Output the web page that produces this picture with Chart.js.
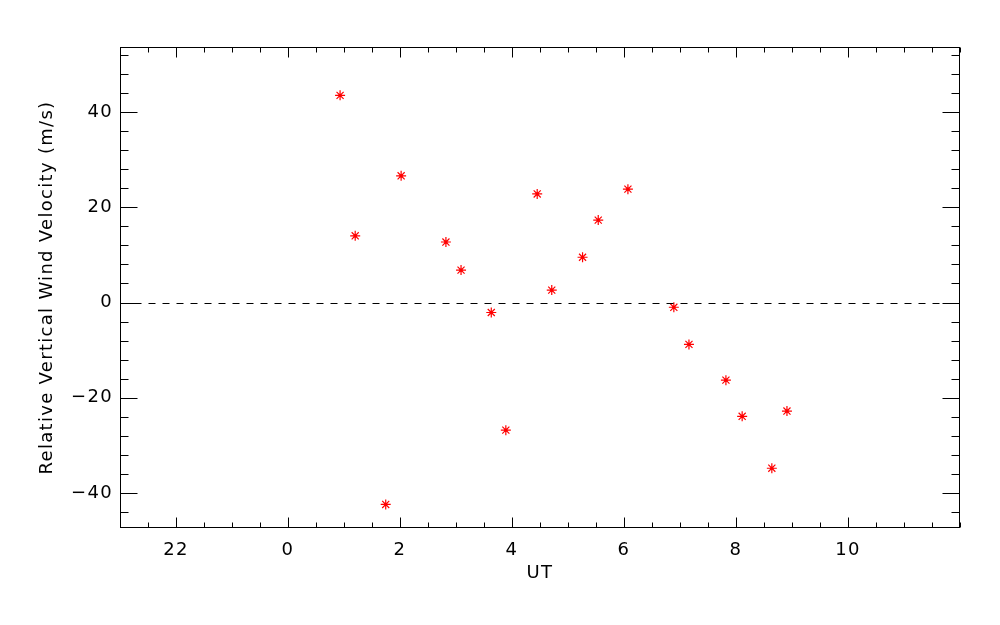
<!DOCTYPE html>
<html>
<head>
<meta charset="utf-8">
<script src="https://cdn.jsdelivr.net/npm/chart.js@4"></script>
<style>
  html, body { margin: 0; padding: 0; background: #fff; }
  canvas { display: block; }
</style>
</head>
<body>
<canvas id="plot" width="1000" height="625"></canvas>
<script>
'use strict';

// UT in hours after midnight (22 UT of the previous day is -2)
const utHours = [0.93, 1.20, 1.745, 2.02, 2.82, 3.09, 3.63, 3.89, 4.45, 4.71,
                 5.26, 5.54, 6.07, 6.89, 7.16, 7.82, 8.11, 8.64, 8.91];
const windVel = [43.5, 14.0, -42.4, 26.6, 12.7, 6.8, -2.1, -26.8, 22.8, 2.6,
                 9.5, 17.3, 23.8, -1.0, -8.8, -16.3, -23.9, -34.8, -22.8];

const xTickValues = [-2, 0, 2, 4, 6, 8, 10];
const xTickLabels = ['22', '0', '2', '4', '6', '8', '10'];
const yTickValues = [-40, -20, 0, 20, 40];

const xRange = [-3, 12];
const yRange = [-47.35, 53.65];

const points = utHours.map((x, i) => ({ x: x, y: windVel[i] }));
const FONT = { family: '"DejaVu Sans", sans-serif', size: 18 };

// the IDL vector font is wide; stretch canvas text a little
const spacing = {
    id: 'spacing',
    beforeUpdate(chart) { chart.ctx.letterSpacing = '1.3px'; },
    beforeDraw(chart) { chart.ctx.letterSpacing = '1.3px'; },
};

// IDL-style box: inward major/minor ticks on all four sides + dashed zero line
const idlFrame = {
    id: 'idlFrame',
    afterDatasetsDraw(chart) {
        const ctx = chart.ctx;
        const a = chart.chartArea;
        const xs = chart.scales.x, ys = chart.scales.y;
        const L = Math.round(a.left) + 0.5, R = Math.round(a.right) - 0.5;
        const T = Math.round(a.top) + 0.5, B = Math.round(a.bottom) - 0.5;

        ctx.save();
        ctx.strokeStyle = '#000';
        ctx.lineWidth = 1;

        // zero line
        const y0 = Math.round(ys.getPixelForValue(0)) + 0.5;
        ctx.setLineDash([7, 7]);
        ctx.beginPath();
        ctx.moveTo(L, y0);
        ctx.lineTo(R, y0);
        ctx.stroke();
        ctx.setLineDash([]);

        ctx.strokeRect(L, T, R - L, B - T);

        ctx.beginPath();
        for (let v = Math.ceil(xRange[0] / 0.5) * 0.5; v <= xRange[1]; v += 0.5) {
            const px = Math.round(xs.getPixelForValue(v)) + 0.5;
            const len = xTickValues.includes(v) ? 10 : 5;
            ctx.moveTo(px, B); ctx.lineTo(px, B - len);
            ctx.moveTo(px, T); ctx.lineTo(px, T + len);
        }
        for (let v = Math.ceil(yRange[0] / 4) * 4; v <= yRange[1]; v += 4) {
            const py = Math.round(ys.getPixelForValue(v)) + 0.5;
            const len = yTickValues.includes(v) ? 17 : 8;
            ctx.moveTo(L, py); ctx.lineTo(L + len, py);
            ctx.moveTo(R, py); ctx.lineTo(R - len, py);
        }
        ctx.stroke();
        ctx.restore();
    }
};

new Chart(document.getElementById('plot'), {
    type: 'scatter',
    data: {
        datasets: [
            {
                data: points,
                pointStyle: 'star',
                pointRadius: 5,
                pointBorderWidth: 1.2,
                borderColor: '#ff0000',
                backgroundColor: '#ff0000',
            },
            {
                data: points,
                pointStyle: 'circle',
                pointRadius: 1.6,
                pointBorderWidth: 0,
                borderColor: '#ff0000',
                backgroundColor: '#ff0000',
            },
        ],
    },
    options: {
        responsive: false,
        animation: false,
        devicePixelRatio: 1,
        layout: { autoPadding: false, padding: { top: 47, right: 40, bottom: 0, left: 0 } },
        plugins: { legend: { display: false }, tooltip: { enabled: false } },
        scales: {
            x: {
                type: 'linear',
                min: xRange[0],
                max: xRange[1],
                grid: { display: false, drawTicks: false },
                border: { display: false },
                afterBuildTicks: (s) => { s.ticks = xTickValues.map(v => ({ value: v })); },
                afterFit: (s) => { s.height = 97; },
                ticks: {
                    color: '#000',
                    font: FONT,
                    padding: 12,
                    maxRotation: 0,
                    autoSkip: false,
                    callback: (v) => xTickLabels[xTickValues.indexOf(v)],
                },
                title: {
                    display: true,
                    text: 'UT',
                    color: '#000',
                    font: FONT,
                    padding: { top: 0, bottom: 41 },
                },
            },
            y: {
                type: 'linear',
                min: yRange[0],
                max: yRange[1],
                grid: { display: false, drawTicks: false },
                border: { display: false },
                afterBuildTicks: (s) => { s.ticks = yTickValues.map(v => ({ value: v })); },
                afterFit: (s) => { s.width = 120; },
                ticks: {
                    color: '#000',
                    font: FONT,
                    padding: 7,
                    autoSkip: false,
                    callback: (v) => String(v).replace('-', '\u2212'),
                },
                title: {
                    display: true,
                    text: 'Relative Vertical Wind Velocity (m/s)',
                    color: '#000',
                    font: FONT,
                    padding: { top: 37, bottom: 0 },
                },
            },
        },
    },
    plugins: [spacing, idlFrame],
});
</script>
</body>
</html>
